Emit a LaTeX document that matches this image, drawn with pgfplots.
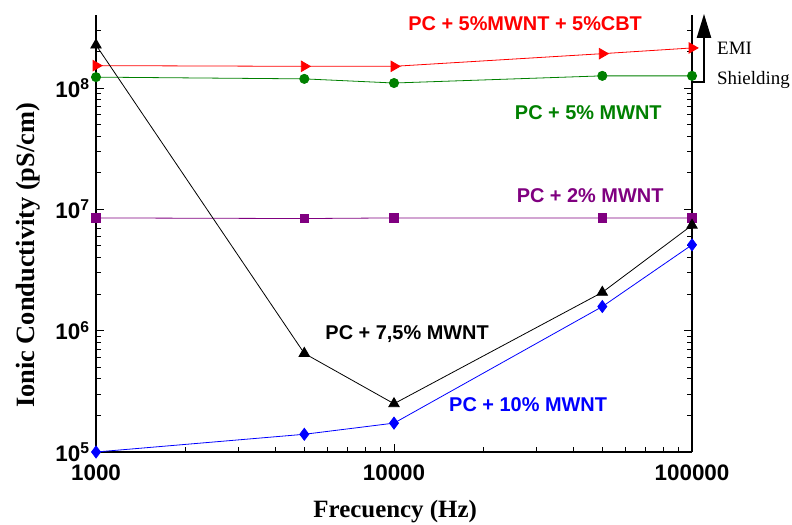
\documentclass[border=0pt]{standalone}
\usepackage{fontspec}
\setmainfont{Liberation Serif}
\setsansfont{Liberation Sans}
\usepackage{pgfplots}
\pgfplotsset{compat=1.18}
\usetikzlibrary{arrows.meta}
\definecolor{cred}{RGB}{255,0,0}
\definecolor{cgreen}{RGB}{0,128,0}
\definecolor{cpurple}{RGB}{128,0,128}
\definecolor{cblue}{RGB}{0,0,255}
\newcommand\labfont{\sffamily\bfseries\fontsize{20}{22}\selectfont}
\newcommand\tkfont{\sffamily\bfseries\fontsize{22.5}{24}\selectfont}

\begin{document}
\begin{tikzpicture}
\begin{axis}[
  scale only axis, width=596bp, height=437bp,
  xmode=log, ymode=log,
  xmin=1000, xmax=100000, ymin=1e5, ymax=4e8,
  axis x line*=bottom, axis y line*=box,
  axis line style={line width=1.3bp},
  tick style={black, line width=1bp},
  tick align=inside,
  major tick length=8bp, minor tick length=5bp,
  xtick={1000,10000,100000}, xticklabels={1000,10000,100000},
  minor xtick={2000,3000,4000,5000,6000,7000,8000,9000,20000,30000,40000,50000,60000,70000,80000,90000},
  ytick={1e5,1e6,1e7,1e8},
  yticklabels={10\textsuperscript{5},10\textsuperscript{6},10\textsuperscript{7},10\textsuperscript{8}},
  minor ytick={2e5,3e5,4e5,5e5,6e5,7e5,8e5,9e5,2e6,3e6,4e6,5e6,6e6,7e6,8e6,9e6,2e7,3e7,4e7,5e7,6e7,7e7,8e7,9e7,2e8,3e8},
  xticklabel style={font=\tkfont, yshift=-9bp},
  yticklabel style={font=\tkfont, xshift=-3bp},
  xlabel={Frecuency (Hz)}, ylabel={Ionic Conductivity (pS/cm)},
  label style={font=\bfseries\fontsize{25}{27}\selectfont},
  xlabel style={at={(axis description cs:0.502,0)}, anchor=center, yshift=-60bp},
  ylabel style={at={(axis description cs:0,0.45)}, anchor=center, yshift=68bp, font=\bfseries\fontsize{26.5}{28}\selectfont},
  clip=false,
  every axis plot/.append style={line width=0.8bp, mark options={solid}},
]
% PC + 5% MWNT + 5% CBT
\addplot[color=cred, mark=triangle*, mark size=6bp, mark options={rotate=-90}] coordinates {
  (1000,1.53e8) (5000,1.51e8) (10000,1.51e8) (50000,1.92e8) (100000,2.14e8)};
% PC + 5% MWNT
\addplot[color=cgreen, mark=*, mark size=4.6bp] coordinates {
  (1000,1.23e8) (5000,1.19e8) (10000,1.10e8) (50000,1.26e8) (100000,1.26e8)};
% PC + 2% MWNT
\addplot[color=cpurple, mark=square*, mark size=4.3bp] coordinates {
  (1000,8.5e6) (5000,8.4e6) (10000,8.5e6) (50000,8.5e6) (100000,8.5e6)};
% PC + 7,5% MWNT
\addplot[color=black, mark=triangle*, mark size=6bp] coordinates {
  (1000,2.26e8) (5000,6.5e5) (10000,2.5e5) (50000,2.07e6) (100000,7.4e6)};
% PC + 10% MWNT
\addplot[color=cblue, mark=diamond*, mark size=6bp] coordinates {
  (1000,1.0e5) (5000,1.40e5) (10000,1.73e5) (50000,1.58e6) (100000,5.1e6)};

\node[text=cred, font=\labfont] at (rel axis cs:0.720,0.981) {PC + 5\%MWNT + 5\%CBT};
\node[text=cgreen, font=\labfont] at (rel axis cs:0.826,0.776) {PC + 5\% MWNT};
\node[text=cpurple, font=\labfont] at (rel axis cs:0.829,0.587) {PC + 2\% MWNT};
\node[text=black, font=\labfont] at (rel axis cs:0.522,0.2705) {PC + 7,5\% MWNT};
\node[text=cblue, font=\labfont] at (rel axis cs:0.725,0.108) {PC + 10\% MWNT};

\coordinate (emi) at (rel axis cs:1,0.847);
\coordinate (emitxt) at (rel axis cs:1,0.9085);
\coordinate (shtxt) at (rel axis cs:1,0.842);
\coordinate (ll) at (rel axis cs:0,0);
\coordinate (ur) at (rel axis cs:1,1);
\end{axis}
\draw[line width=2.2bp, -{Triangle[length=24bp,width=14bp]}]
  (emi) -- ++(12bp,0) -- ++(0,68bp);
\node[anchor=base west, font=\fontsize{19}{21}\selectfont, inner sep=0pt] at ([xshift=25bp]emitxt) {EMI};
\node[anchor=base west, font=\fontsize{19}{21}\selectfont, inner sep=0pt] at ([xshift=25bp]shtxt) {Shielding};
\pgfresetboundingbox
\path[use as bounding box] ([shift={(-96bp,-72bp)}]ll) rectangle ([shift={(100bp,15bp)}]ur);
\end{tikzpicture}
\end{document}
